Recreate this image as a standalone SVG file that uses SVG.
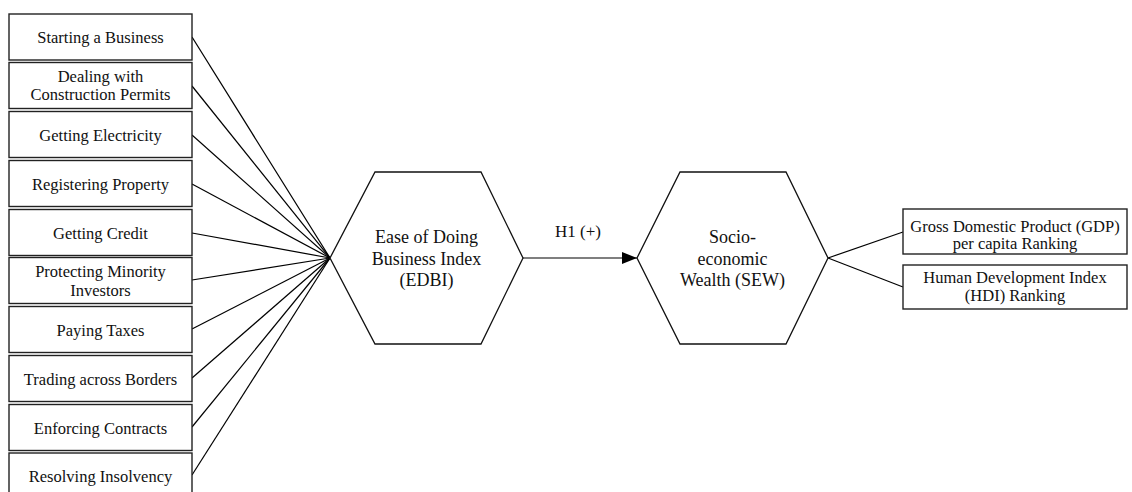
<svg xmlns="http://www.w3.org/2000/svg" width="1132" height="492" viewBox="0 0 1132 492">
  <style>
    .box { fill: #ffffff; stroke: #222222; stroke-width: 1.4; }
    .hex { fill: #ffffff; stroke: #111111; stroke-width: 1.3; }
    .lbl { font-family: "Liberation Serif", "Times New Roman", serif; font-size: 16.5px; fill: #111111; text-anchor: middle; }
    .big { font-size: 18px; }
    .edge { stroke: #000000; stroke-width: 1.2; fill: none; }
  </style>
  <defs>
    <marker id="arrow" markerWidth="15" markerHeight="12" refX="15" refY="6" orient="auto" markerUnits="userSpaceOnUse">
      <path d="M0,0 L15,6 L0,12 Z" fill="#000000"/>
    </marker>
  </defs>
  <rect width="1132" height="492" fill="#ffffff"/>

  <!-- connectors -->
  <g id="connectors">
    <line class="edge" x1="192" y1="37" x2="330" y2="258"/>
    <line class="edge" x1="192" y1="86" x2="330" y2="258"/>
    <line class="edge" x1="192" y1="135" x2="330" y2="258"/>
    <line class="edge" x1="192" y1="184" x2="330" y2="258"/>
    <line class="edge" x1="192" y1="233" x2="330" y2="258"/>
    <line class="edge" x1="192" y1="280" x2="330" y2="258"/>
    <line class="edge" x1="192" y1="329" x2="330" y2="258"/>
    <line class="edge" x1="192" y1="378" x2="330" y2="258"/>
    <line class="edge" x1="192" y1="427" x2="330" y2="258"/>
    <line class="edge" x1="192" y1="475" x2="330" y2="258"/>
    <line class="edge" x1="523" y1="258" x2="637" y2="258" marker-end="url(#arrow)"/>
    <text class="lbl" x="578" y="237" style="font-size:17px">H1 (+)</text>
    <line class="edge" x1="828" y1="258" x2="903" y2="232"/>
    <line class="edge" x1="828" y1="258" x2="903" y2="287"/>
  </g>

  <!-- indicator boxes -->
  <g id="starting-business">
    <rect class="box" x="9" y="14" width="183" height="46"/>
    <text class="lbl" x="100.5" y="43">Starting a Business</text>
  </g>
  <g id="construction-permits">
    <rect class="box" x="9" y="62.5" width="183" height="46"/>
    <text class="lbl" x="100.5" y="82">Dealing with</text>
    <text class="lbl" x="100.5" y="100">Construction Permits</text>
  </g>
  <g id="getting-electricity">
    <rect class="box" x="9" y="111.5" width="183" height="46"/>
    <text class="lbl" x="100.5" y="141">Getting Electricity</text>
  </g>
  <g id="registering-property">
    <rect class="box" x="9" y="160.5" width="183" height="46"/>
    <text class="lbl" x="100.5" y="190">Registering Property</text>
  </g>
  <g id="getting-credit">
    <rect class="box" x="9" y="209.5" width="183" height="46"/>
    <text class="lbl" x="100.5" y="239">Getting Credit</text>
  </g>
  <g id="minority-investors">
    <rect class="box" x="9" y="257.5" width="183" height="46"/>
    <text class="lbl" x="100.5" y="277">Protecting Minority</text>
    <text class="lbl" x="100.5" y="296">Investors</text>
  </g>
  <g id="paying-taxes">
    <rect class="box" x="9" y="306.5" width="183" height="46"/>
    <text class="lbl" x="100.5" y="336">Paying Taxes</text>
  </g>
  <g id="trading-borders">
    <rect class="box" x="9" y="355.5" width="183" height="46"/>
    <text class="lbl" x="100.5" y="385">Trading across Borders</text>
  </g>
  <g id="enforcing-contracts">
    <rect class="box" x="9" y="404.5" width="183" height="46"/>
    <text class="lbl" x="100.5" y="434">Enforcing Contracts</text>
  </g>
  <g id="resolving-insolvency">
    <rect class="box" x="9" y="453" width="183" height="46"/>
    <text class="lbl" x="100.5" y="482">Resolving Insolvency</text>
  </g>

  <!-- constructs -->
  <g id="edbi">
    <polygon class="hex" points="330,258 375,172 481,172 523,258 481,344 375,344"/>
    <text class="lbl big" x="426.5" y="243">Ease of Doing</text>
    <text class="lbl big" x="426.5" y="264.5">Business Index</text>
    <text class="lbl big" x="426.5" y="286">(EDBI)</text>
  </g>
  <g id="sew">
    <polygon class="hex" points="637,258 680,172 786,172 828,258 786,344 680,344"/>
    <text class="lbl big" x="732.5" y="243">Socio-</text>
    <text class="lbl big" x="732.5" y="264.5">economic</text>
    <text class="lbl big" x="732.5" y="286">Wealth (SEW)</text>
  </g>

  <!-- outcome boxes -->
  <g id="gdp-ranking">
    <rect class="box" x="903" y="209" width="224" height="45"/>
    <text class="lbl" x="1015" y="232">Gross Domestic Product (GDP)</text>
    <text class="lbl" x="1015" y="249">per capita Ranking</text>
  </g>
  <g id="hdi-ranking">
    <rect class="box" x="903" y="265" width="224" height="44"/>
    <text class="lbl" x="1015" y="283">Human Development Index</text>
    <text class="lbl" x="1015" y="301">(HDI) Ranking</text>
  </g>
</svg>
